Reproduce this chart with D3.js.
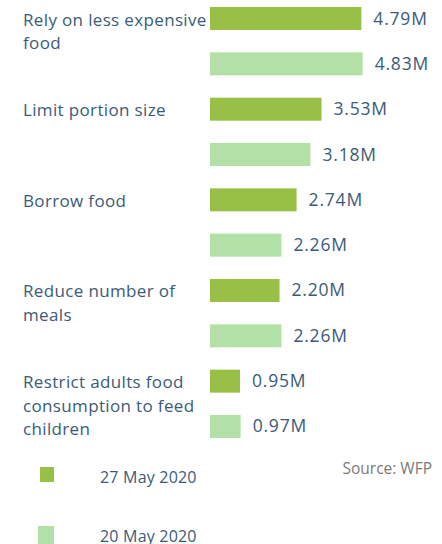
<!DOCTYPE html>
<html>
<head>
<meta charset="utf-8">
<script src="https://cdn.jsdelivr.net/npm/d3@7"></script>
<style>
  body { margin: 0; background: #fff; }
  svg { display: block; font-family: "Open Sans", sans-serif; }
</style>
</head>
<body>
<svg width="442" height="544"></svg>
<script>
const categories = [
  "Rely on less expensive food",
  "Limit portion size",
  "Borrow food",
  "Reduce number of meals",
  "Restrict adults food consumption to feed children"
];
// wrapped the way the picture shows them
const labelLines = [
  ["Rely on less expensive", "food"],
  ["Limit portion size"],
  ["Borrow food"],
  ["Reduce number of", "meals"],
  ["Restrict adults food", "consumption to feed", "children"]
];
const series = ["27 May 2020", "20 May 2020"];
const may27 = [4.79, 3.53, 2.74, 2.20, 0.95];
const may20 = [4.83, 3.18, 2.26, 2.26, 0.97];
const colors = ["#98bf46", "#b3e0a6"];

const svg = d3.select("svg");
const textColor = "#3b5b78";

const rows = [];
categories.forEach((c, i) => {
  rows.push({ cat: i, s: 0, v: may27[i] });
  rows.push({ cat: i, s: 1, v: may20[i] });
});

const x = d3.scaleLinear().domain([0, 1]).range([210, 241.6]);
const y = d3.scaleBand()
  .domain(rows.map((d, i) => i))
  .range([-15.3, 460.3])
  .paddingInner(0.4926)
  .paddingOuter(0.4926);

const g = svg.append("g");

g.selectAll("rect.bar")
  .data(rows)
  .enter().append("rect")
  .attr("class", "bar")
  .attr("x", x(0))
  .attr("y", (d, i) => y(i))
  .attr("width", d => x(d.v) - x(0))
  .attr("height", y.bandwidth())
  .attr("fill", d => colors[d.s]);

g.selectAll("text.val")
  .data(rows)
  .enter().append("text")
  .attr("class", "val")
  .attr("x", d => x(d.v) + 12)
  .attr("y", (d, i) => y(i) + y.bandwidth() / 2 + 6)
  .attr("font-size", 17.5)
  .attr("letter-spacing", 0.8)
  .attr("fill", textColor)
  .text(d => d3.format(".2f")(d.v) + "M");

// category labels, first line centred on the first bar of each group
categories.forEach((c, i) => {
  const t = g.append("text")
    .attr("x", 23)
    .attr("y", y(i * 2) + y.bandwidth() / 2 + 7)
    .attr("font-size", 17)
    .attr("letter-spacing", 0.35)
    .attr("fill", textColor);
  labelLines[i].forEach((line, j) => {
    t.append("tspan")
      .attr("x", 23)
      .attr("dy", j === 0 ? 0 : 23.5)
      .text(line);
  });
});

// legend
const legend = svg.append("g");
const legY = [467, 526];
series.forEach((s, i) => {
  legend.append("rect")
    .attr("x", i === 0 ? 40 : 38)
    .attr("y", legY[i])
    .attr("width", i === 0 ? 14 : 16)
    .attr("height", i === 0 ? 15 : 18)
    .attr("fill", colors[i]);
  legend.append("text")
    .attr("x", 100)
    .attr("y", legY[i] + 15.5)
    .attr("font-size", 16)
    .attr("letter-spacing", 0.2)
    .attr("fill", textColor)
    .text(s);
});

svg.append("text")
  .attr("x", 432)
  .attr("y", 473.5)
  .attr("text-anchor", "end")
  .attr("font-size", 15.5)
  .attr("fill", "#7a7a7a")
  .text("Source: WFP");
</script>
</body>
</html>
